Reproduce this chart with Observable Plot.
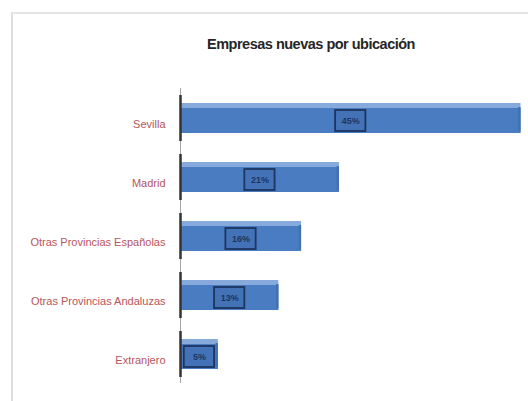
<!DOCTYPE html>
<html>
<head>
<meta charset="utf-8">
<script src="https://cdn.jsdelivr.net/npm/d3@7"></script>
<script src="https://cdn.jsdelivr.net/npm/@observablehq/plot@0.6"></script>
<style>
  html, body { margin: 0; padding: 0; background: #fff; }
  #wrap { position: relative; width: 528px; height: 401px; overflow: hidden; }
  #frame { position: absolute; left: 11px; top: 12px; width: 530px; height: 400px;
           border-left: 2px solid #dedede; border-top: 2px solid #e4e4e4; }
  #title { position: absolute; left: 0; width: 622px; top: 36px; text-align: center;
           font: bold 14.5px "Liberation Sans", Arial, sans-serif; color: #262626; letter-spacing: -0.5px; }
  svg { position: absolute; left: 0; top: 0; }
</style>
</head>
<body>
<div id="wrap">
  <div id="frame"></div>
  <div id="title">Empresas nuevas por ubicación</div>
</div>
<script>
const categories = ["Sevilla", "Madrid", "Otras Provincias Españolas", "Otras Provincias Andaluzas", "Extranjero"];
const values = [45, 21, 16, 13, 5];
const labels = ["45%", "21%", "16%", "13%", "5%"];

const data = categories.map((c, i) => ({cat: c, v: values[i], label: labels[i]}));

const chart = Plot.plot({
  width: 528,
  height: 401,
  marginLeft: 180,
  marginRight: 6,
  marginTop: 88,
  marginBottom: 18,
  style: {background: "transparent", fontFamily: "Liberation Sans, Arial, sans-serif"},
  x: {domain: [0, 45.2], axis: null},
  y: {domain: categories, paddingInner: 0.5, paddingOuter: 0.25, label: null},
  marks: [
    Plot.ruleX([0], {stroke: "#a5a5a5", strokeWidth: 1}),
    // top face (lighter)
    Plot.barX(data, {x: "v", y: "cat", fill: "#86aadb"}),
    // front face
    Plot.barX(data, {x: "v", y: "cat", fill: "#4a7cc2", insetTop: 5}),
    // right-end bevel
    Plot.barX(data, {x1: d => d.v - 0.3, x2: "v", y: "cat", fill: "#4270b0", insetTop: 4, insetBottom: 2}),
    // axis tick marks at each bar
    Plot.tickX(data, {x: () => 0, y: "cat", insetTop: -8, insetBottom: -8, stroke: "#333", strokeWidth: 2.5}),
    // label boxes
    Plot.barX(data, {x1: d => d.v / 2 - 2.0, x2: d => d.v / 2 + 2.0, y: "cat", fill: "#4373b6",
                     stroke: "#1d3560", strokeWidth: 1.8, insetTop: 7, insetBottom: 2}),
    Plot.text(data, {x: d => d.v / 2, y: "cat", text: "label", dy: 3, fill: "#1d3560",
                     fontSize: 9, fontWeight: "bold"}),
    Plot.axisY({tickSize: 0, tickPadding: 15, dy: 6, fontSize: 11, color: "#b8555c", label: null})
  ]
});
document.getElementById("wrap").appendChild(chart);
</script>
</body>
</html>
